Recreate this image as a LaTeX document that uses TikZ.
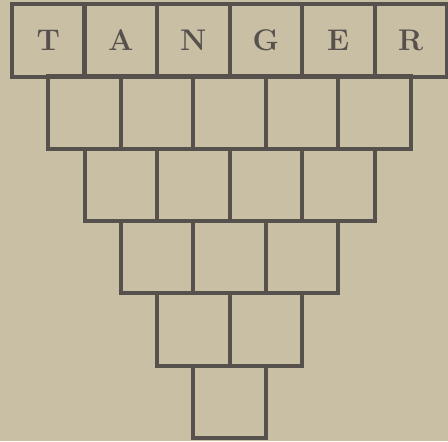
\documentclass[tikz,border=0pt]{standalone}
\definecolor{paper}{RGB}{201,191,164}
\definecolor{ink}{RGB}{86,81,77}
\begin{document}
\begin{tikzpicture}[x=0.02cm, y=-0.02cm,
    cell/.style={draw=ink, line width=0.08cm, minimum size=1.45cm,
                 inner sep=0pt, outer sep=0pt, text=ink,
                 font=\fontsize{17}{20}\selectfont\bfseries}]
   \fill[paper] (0,0) rectangle (448,441);
   \useasboundingbox (0,0) rectangle (448,441);
   % top row with the word
   \foreach \l [count=\i from 0] in {T,A,N,G,E,R}
     \node[cell] (c-0-\i) at (48.25+72.5*\i, 40.25) {\l};
   % the shrinking rows below
   \foreach \r in {1,...,5} {
     \pgfmathtruncatemacro\last{5-\r}
     \foreach \i in {0,...,\last}
       \node[cell] (c-\r-\i) at (48.25+36.25*\r+72.5*\i, 40.25+72.3*\r) {};
   }
\end{tikzpicture}
\end{document}
